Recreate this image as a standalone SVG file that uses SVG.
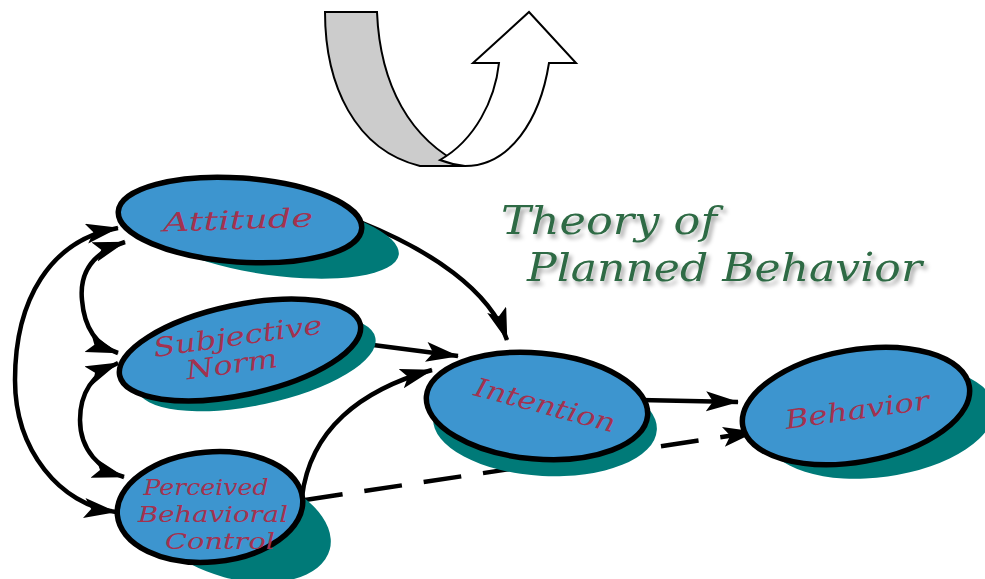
<svg xmlns="http://www.w3.org/2000/svg" width="985" height="579" viewBox="0 0 985 579">
<style>
.shadow{fill:#007a78}
.node{fill:#3d95cf;stroke:#000;stroke-width:5.5}
.lbl{font-family:"DejaVu Serif","Liberation Serif",serif;font-style:italic;font-size:26px;fill:#a3324f;text-anchor:middle}
.sm{font-size:22px}
.title{font-family:"DejaVu Serif","Liberation Serif",serif;font-style:italic;font-size:40px;fill:#2f6b44}
.conn{fill:none;stroke:#000;stroke-width:4.5}
</style>
<defs>
<marker id="ah" markerUnits="userSpaceOnUse" markerWidth="36" markerHeight="24" refX="32" refY="10" orient="auto-start-reverse">
<path d="M0,0 L33,10 L0,20 L7,10 Z" fill="#000"/>
</marker>
<filter id="ts" x="-10%" y="-30%" width="130%" height="170%">
<feGaussianBlur in="SourceAlpha" stdDeviation="2"/>
<feOffset dx="3" dy="4" result="b"/>
<feFlood flood-color="#000" flood-opacity="0.35"/>
<feComposite in2="b" operator="in" result="s"/>
<feMerge><feMergeNode in="s"/><feMergeNode in="SourceGraphic"/></feMerge>
</filter>
</defs>

<g id="uturn-arrow" stroke="#000" stroke-width="2" stroke-linejoin="miter">
<path d="M325,12 L377,12 C380,85 410,140 465,166 L420,166 C355,150 325,85 325,12 Z" fill="#cccccc"/>
<path d="M440,160 C475,140 495,100 499,63 L473,63 L529,12 L576,63 L549,63 C540,120 510,166 465,166 C455,165 448,163 440,160 Z" fill="#fff"/>
</g>

<g id="title" class="title" filter="url(#ts)">
<text x="501" y="234" textLength="216" lengthAdjust="spacingAndGlyphs">Theory of</text>
<text x="527" y="281" textLength="395" lengthAdjust="spacingAndGlyphs">Planned Behavior</text>
</g>

<g id="connectors">
<path class="conn" d="M360,222 C430,250 490,290 507,340" marker-end="url(#ah)"/>
<path class="conn" d="M350,342 L458,356" marker-end="url(#ah)"/>
<path class="conn" d="M302,497 C310,430 360,390 432,370" marker-end="url(#ah)"/>
<path class="conn" d="M640,400 L738,402" marker-end="url(#ah)"/>
<path class="conn" d="M305,500 L755,432" stroke-dasharray="38,22" marker-end="url(#ah)"/>
<path class="conn" d="M118,228 C50,240 15,300 15,380 C15,450 60,505 116,512" marker-start="url(#ah)" marker-end="url(#ah)"/>
<path class="conn" d="M125,242 C85,255 80,280 82,300 C84,325 95,345 118,353" marker-start="url(#ah)" marker-end="url(#ah)"/>
<path class="conn" d="M118,363 C90,375 80,395 80,420 C80,450 100,470 124,477" marker-start="url(#ah)" marker-end="url(#ah)"/>
</g>

<g id="attitude">
<ellipse class="shadow" cx="272" cy="237" rx="128" ry="38" transform="rotate(8 272 237)"/>
<ellipse class="node" cx="240" cy="220" rx="122" ry="42" transform="rotate(4 240 220)"/>
<text class="lbl" x="238" y="229" textLength="150" lengthAdjust="spacingAndGlyphs" transform="rotate(-2 238 220)">Attitude</text>
</g>

<g id="subjective-norm">
<ellipse class="shadow" cx="256" cy="363" rx="122" ry="42" transform="rotate(-12 256 363)"/>
<ellipse class="node" cx="240" cy="350" rx="123" ry="45" transform="rotate(-12 240 350)"/>
<g transform="rotate(-8 240 352)">
<text class="lbl" x="240" y="345" textLength="170" lengthAdjust="spacingAndGlyphs">Subjective</text>
<text class="lbl" x="230" y="372" textLength="92" lengthAdjust="spacingAndGlyphs">Norm</text>
</g>
</g>

<g id="perceived-behavioral-control">
<ellipse class="shadow" cx="238" cy="525" rx="95" ry="54" transform="rotate(15 238 525)"/>
<ellipse class="node" cx="210" cy="507" rx="93" ry="55" transform="rotate(-5 210 507)"/>
<text class="lbl sm" x="206" y="495" textLength="125" lengthAdjust="spacingAndGlyphs">Perceived</text>
<text class="lbl sm" x="213" y="522" textLength="150" lengthAdjust="spacingAndGlyphs">Behavioral</text>
<text class="lbl sm" x="220" y="549" textLength="110" lengthAdjust="spacingAndGlyphs">Control</text>
</g>

<g id="intention">
<ellipse class="shadow" cx="545" cy="424" rx="112" ry="52" transform="rotate(3 545 424)"/>
<ellipse class="node" cx="537" cy="406" rx="111" ry="53" transform="rotate(5 537 406)"/>
<text class="lbl" x="545" y="414" textLength="145" lengthAdjust="spacingAndGlyphs" transform="rotate(15 545 405)">Intention</text>
</g>

<g id="behavior">
<ellipse class="shadow" cx="880" cy="422" rx="115" ry="55" transform="rotate(-8 880 422)"/>
<ellipse class="node" cx="856" cy="406" rx="115" ry="56" transform="rotate(-10 856 406)"/>
<text class="lbl" x="857" y="419" textLength="145" lengthAdjust="spacingAndGlyphs" transform="rotate(-8 857 410)">Behavior</text>
</g>
</svg>
